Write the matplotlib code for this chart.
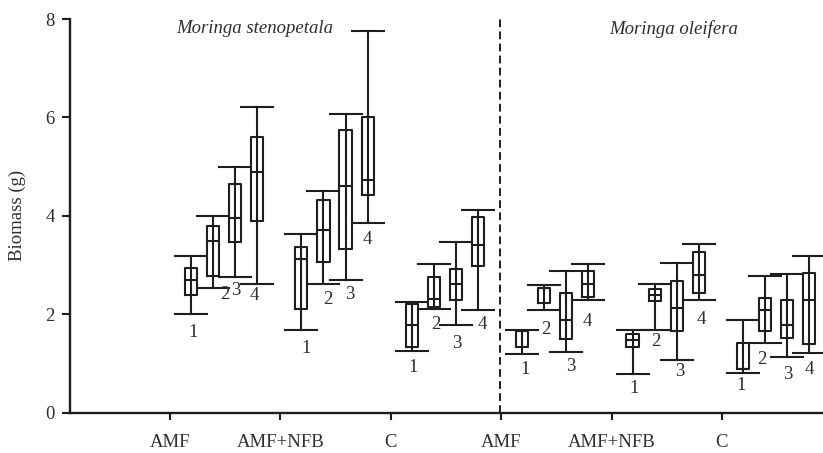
import numpy as np
import matplotlib
matplotlib.use("Agg")
from matplotlib import pyplot as plt

plt.rcParams['font.family'] = ['Liberation Serif', 'DejaVu Serif']

# treatments (two species, three treatments each), 4 samples per treatment
treatments = ['AMF', 'AMF+NFB', 'C', 'AMF', 'AMF+NFB', 'C']
species = ['Moringa stenopetala', 'Moringa oleifera']
samples = ['1', '2', '3', '4']

# box statistics, 24 boxes in order of treatment then sample
lower = [2.0, 2.53, 2.75, 2.62,
         1.68, 2.62, 2.70, 3.85,
         1.25, 2.11, 1.78, 2.08,
         1.19, 2.09, 1.24, 2.29,
         0.79, 1.69, 1.07, 2.30,
         0.81, 1.42, 1.14, 1.21]
q1 = [2.39, 2.78, 3.46, 3.90,
      2.11, 3.06, 3.33, 4.42,
      1.34, 2.14, 2.28, 2.99,
      1.33, 2.22, 1.50, 2.36,
      1.34, 2.27, 1.67, 2.43,
      0.88, 1.65, 1.51, 1.40]
median = [2.69, 3.48, 3.96, 4.90,
          3.12, 3.72, 4.60, 4.72,
          1.78, 2.32, 2.62, 3.40,
          1.66, 2.53, 1.88, 2.62,
          1.48, 2.39, 2.12, 2.79,
          0.88, 2.09, 1.78, 2.28]
q3 = [2.95, 3.80, 4.64, 5.60,
      3.37, 4.32, 5.74, 6.00,
      2.20, 2.75, 2.92, 3.97,
      1.66, 2.53, 2.44, 2.88,
      1.60, 2.51, 2.68, 3.26,
      1.41, 2.34, 2.29, 2.83]
upper = [3.19, 4.00, 5.00, 6.21,
         3.63, 4.51, 6.07, 7.76,
         2.25, 3.03, 3.47, 4.11,
         1.69, 2.60, 2.87, 3.02,
         1.69, 2.61, 3.04, 3.42,
         1.88, 2.77, 2.81, 3.18]

# placement of the sample number labels (layout, not data)
label_dx = [0.02, 0.11, 0.01, -0.03,
            0.04, 0.04, 0.04, 0.0,
            0.01, 0.02, 0.01, 0.04,
            0.03, 0.01, 0.04, -0.01,
            0.01, 0.01, 0.03, 0.02,
            -0.02, -0.03, 0.01, 0.0]
label_y = [1.62, 2.41, 2.48, 2.39,
           1.31, 2.29, 2.41, 3.52,
           0.91, 1.80, 1.41, 1.80,
           0.87, 1.70, 0.93, 1.85,
           0.50, 1.44, 0.83, 1.90,
           0.56, 1.09, 0.78, 0.87]

ink = '#1e1e1e'
txt = '#2e2e2e'
fs = 13.5
ticks = np.arange(1, len(treatments) + 1)
offsets = [0.19, 0.39, 0.59, 0.79]
positions = [t + o for t in ticks for o in offsets]

stats = []
for i in range(len(positions)):
    stats.append(dict(whislo=lower[i], q1=q1[i], med=median[i],
                      q3=q3[i], whishi=upper[i]))

fig = plt.figure(figsize=(8.23, 4.53), dpi=100)
ax = fig.add_axes([0.085, 0.089, 0.915, 0.869])

lw = 1.5
ax.bxp(stats, positions=positions, widths=0.11, capwidths=0.29,
       showfliers=False, manage_ticks=False,
       boxprops=dict(color=ink, linewidth=lw),
       whiskerprops=dict(color=ink, linewidth=lw),
       capprops=dict(color=ink, linewidth=lw),
       medianprops=dict(color=ink, linewidth=lw))
# whisker line runs through the box
ax.vlines(positions, q1, q3, colors=ink, linewidth=lw)

for i, p in enumerate(positions):
    ax.text(p + label_dx[i], label_y[i], samples[i % 4], ha='center',
            va='center', fontsize=fs, color=txt)

ax.vlines(3.987, 0, 8, colors=ink, linewidth=1.4, linestyles=(0, (4, 2.2)))

ax.text(1.77, 7.8, species[0], style='italic', ha='center', va='center',
        fontsize=fs, color=txt)
ax.text(5.56, 7.8, species[1], style='italic', ha='center', va='center',
        fontsize=fs, color=txt)

ax.set_xlim(0.094, 6.915)
ax.set_ylim(0, 8)
ax.set_yticks([0, 2, 4, 6, 8])
ax.set_xticks(ticks)
ax.set_xticklabels(treatments)
ax.set_ylabel('Biomass (g)', fontsize=fs, color=txt, labelpad=14)

for s in ['top', 'right']:
    ax.spines[s].set_visible(False)
for s in ['left', 'bottom']:
    ax.spines[s].set_linewidth(1.7)
    ax.spines[s].set_color(ink)
ax.tick_params(axis='y', length=6, width=1.5, pad=5, labelsize=fs,
               colors=ink, labelcolor=txt)
ax.tick_params(axis='x', length=5, width=1.5, pad=10, labelsize=fs,
               colors=ink, labelcolor=txt)

fig.savefig('out.png', dpi=100)
